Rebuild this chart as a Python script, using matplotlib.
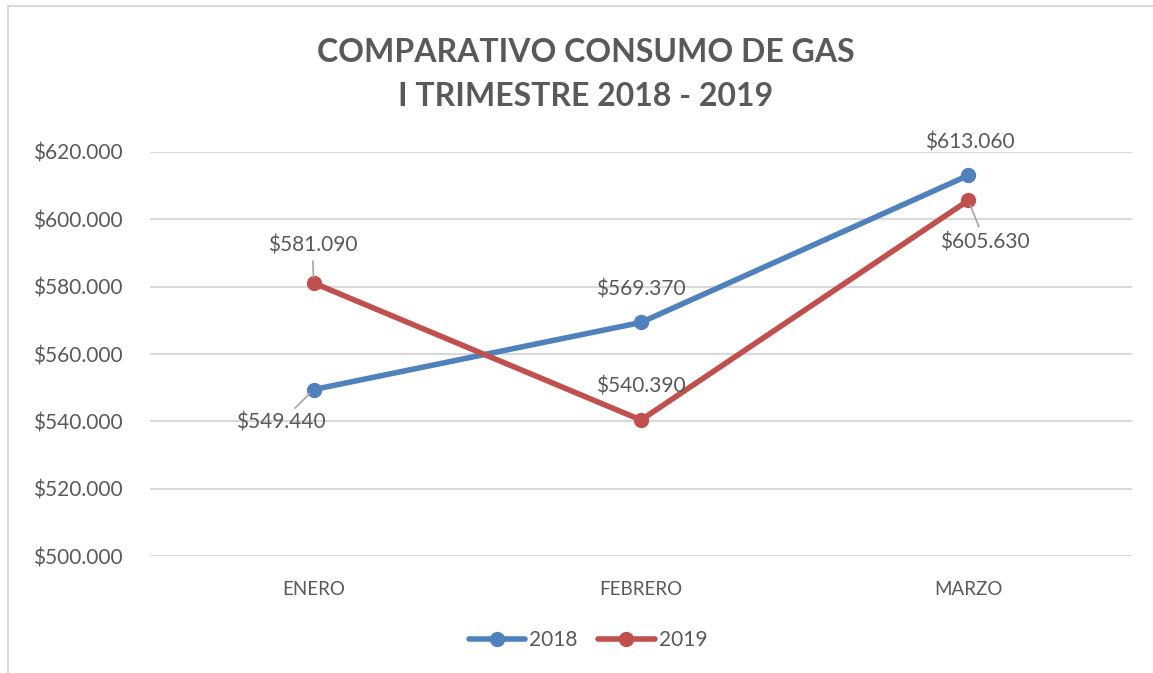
import matplotlib
matplotlib.use("Agg")
import matplotlib.pyplot as plt
from matplotlib.lines import Line2D

categories = ["ENERO", "FEBRERO", "MARZO"]
series_2018 = [549440, 569370, 613060]
series_2019 = [581090, 540390, 605630]
series_names = ["2018", "2019"]
yticks = [500000, 520000, 540000, 560000, 580000, 600000, 620000]

def money(v):
    return "$" + f"{v:,.0f}".replace(",", ".")

TXT = "#595959"
BLUE = "#4F81BD"
RED = "#C0504D"
FONT = ["Lato", "DejaVu Sans"]

W, H = 1153, 673
fig = plt.figure(figsize=(W / 100, H / 100), dpi=100)
fig.patch.set_facecolor("white")

# chart frame (top and left edges visible)
fig.add_artist(Line2D([8 / W, 8 / W], [0, 1 - 6 / H], transform=fig.transFigure, color="#D9D9D9", lw=1.5))
fig.add_artist(Line2D([8 / W, 1], [1 - 6 / H, 1 - 6 / H], transform=fig.transFigure, color="#D9D9D9", lw=1.5))

left, right = 150 / W, 1132 / W
top, bottom = 1 - 152 / H, 1 - 556 / H
ax = fig.add_axes([left, bottom, right - left, top - bottom])

x = list(range(len(categories)))
ax.plot(x, series_2018, color=BLUE, lw=4, marker="o", ms=10, solid_capstyle="round", zorder=3, label=series_names[0])
ax.plot(x, series_2019, color=RED, lw=4, marker="o", ms=10, solid_capstyle="round", zorder=3, label=series_names[1])

ax.set_xlim(-0.5, 2.5)
ax.set_ylim(500000, 620000)
ax.set_yticks(yticks)
ax.set_yticklabels([money(v) for v in yticks], fontsize=15, color=TXT, family=FONT)
ax.set_xticks(x)
ax.set_xticklabels(categories, fontsize=13.5, color=TXT, family=FONT)
ax.tick_params(axis="both", length=0)
ax.tick_params(axis="y", pad=20)
ax.tick_params(axis="x", pad=18)
ax.grid(axis="y", color="#D9D9D9", lw=1.5)
ax.set_axisbelow(True)
for s in ax.spines.values():
    s.set_visible(False)

lead = dict(arrowstyle="-", color="#A6A6A6", lw=1.2, shrinkA=2, shrinkB=4)
# offsets in points (px * 0.72)
label_offsets_2018 = [(-24, -24), (0, 24), (1, 24)]
label_offsets_2019 = [(-1, 27), (0, 24), (12, -30)]
for i, v in enumerate(series_2018):
    ax.annotate(money(v), (x[i], v), xytext=label_offsets_2018[i], textcoords="offset points",
                ha="center", va="center", fontsize=15, color=TXT, family=FONT,
                arrowprops=lead if i == 0 else None, zorder=4)
for i, v in enumerate(series_2019):
    ax.annotate(money(v), (x[i], v), xytext=label_offsets_2019[i], textcoords="offset points",
                ha="center", va="center", fontsize=15, color=TXT, family=FONT,
                arrowprops=lead if i in (0, 2) else None, zorder=4)

fig.text(586 / W, 1 - 52 / H, "COMPARATIVO CONSUMO DE GAS", ha="center", va="center",
         fontsize=23, fontweight="bold", color=TXT, family=FONT)
fig.text(586 / W, 1 - 97 / H, "I TRIMESTRE 2018 - 2019", ha="center", va="center",
         fontsize=23, fontweight="bold", color=TXT, family=FONT)

leg = fig.legend(*ax.get_legend_handles_labels(), loc="center",
                 bbox_to_anchor=(588 / W, 1 - 640 / H), bbox_transform=fig.transFigure,
                 ncol=2, frameon=False, prop={"family": FONT, "size": 15},
                 handlelength=2.7, handletextpad=0.2, columnspacing=1.0)
for t in leg.get_texts():
    t.set_color(TXT)

fig.savefig("out.png", dpi=100)
